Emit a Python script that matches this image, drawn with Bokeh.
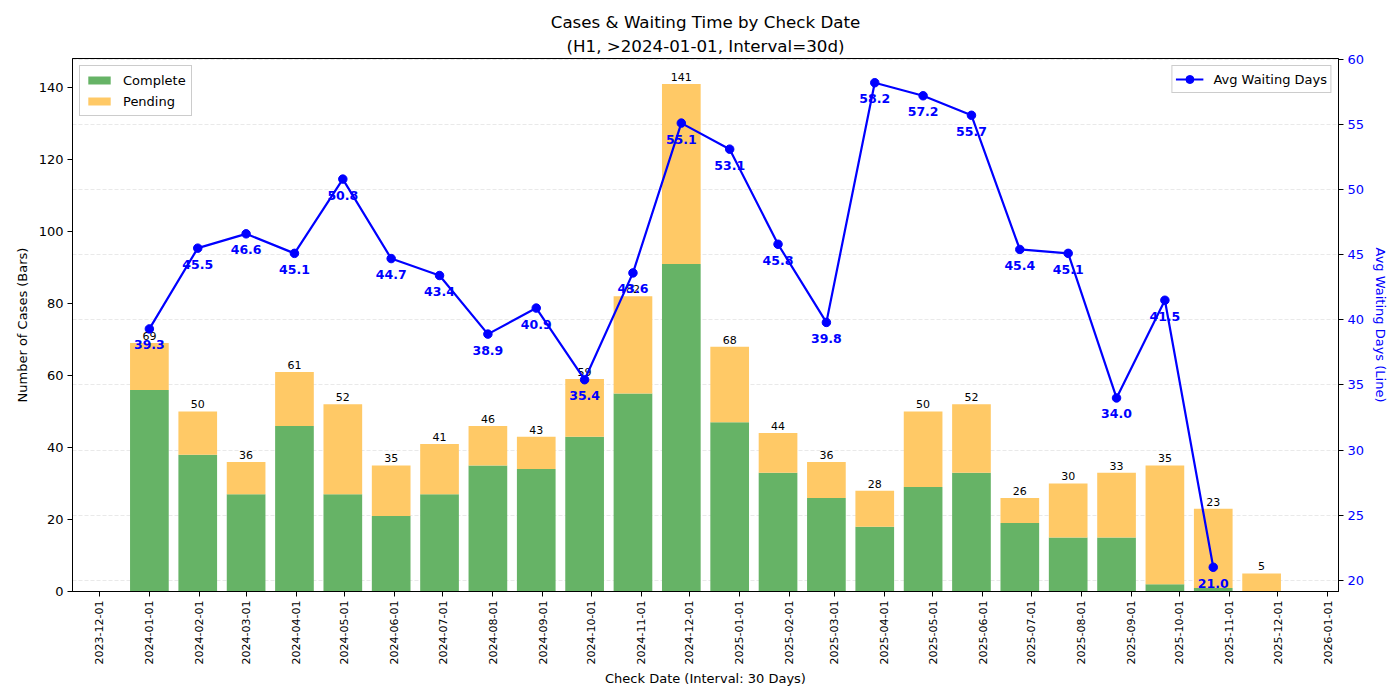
import math
import pandas as pd
from bokeh.plotting import figure
from bokeh.models import (ColumnDataSource, Range1d, LinearAxis, Grid, Legend, LegendItem,
                          FixedTicker, SingleIntervalTicker, DatetimeTickFormatter, Title)
from bokeh.core.properties import value
from bokeh.embed import file_html
from bokeh.resources import INLINE

FONT = "DejaVu Sans"

# ---- data ----
start_date = "2024-01-01"
interval_days = 30
n_bins = 24
total_cases = [69, 50, 36, 61, 52, 35, 41, 46, 43, 59, 82, 141,
               68, 44, 36, 28, 50, 52, 26, 30, 33, 35, 23, 5]
complete_cases = [56, 38, 27, 46, 27, 21, 27, 35, 34, 43, 55, 91,
                  47, 33, 26, 18, 29, 33, 19, 15, 15, 2, 1, 0]
avg_waiting = [39.3, 45.5, 46.6, 45.1, 50.8, 44.7, 43.4, 38.9, 40.9, 35.4, 43.6, 55.1,
               53.1, 45.8, 39.8, 58.2, 57.2, 55.7, 45.4, 45.1, 34.0, 41.5, 21.0]
tick_start = "2023-12-01"
tick_end = "2026-01-01"

dates = pd.date_range(start_date, periods=n_bins, freq=f"{interval_days}D")
bar_width_days = interval_days * 0.8
DAY_MS = 86400000.0

def ms(ts):
    return ts.value / 1e6

bar_src = ColumnDataSource(dict(
    x=[ms(d) for d in dates],
    complete=complete_cases,
    total=total_cases,
    zero=[0] * n_bins,
    label=[str(t) for t in total_cases],
))
line_src = ColumnDataSource(dict(
    x=[ms(d) for d in dates[:len(avg_waiting)]],
    y=avg_waiting,
    label=[f"{v:.1f}" for v in avg_waiting],
))

# ranges (matplotlib-like autoscale)
x_lo = ms(dates[0]) - bar_width_days / 2 * DAY_MS
x_hi = ms(dates[-1]) + bar_width_days / 2 * DAY_MS
xm = 0.05 * (x_hi - x_lo)
y_left_max = max(total_cases) * 1.05
ymin_r, ymax_r = min(avg_waiting), max(avg_waiting)
rm = 0.05 * (ymax_r - ymin_r)

p = figure(width=1392, height=692, x_axis_type="datetime",
           x_range=Range1d(x_lo - xm, x_hi + xm),
           y_range=Range1d(0, y_left_max),
           output_backend="svg", toolbar_location=None,
           min_border_left=72, min_border_right=54, min_border_top=58, min_border_bottom=101)
p.extra_y_ranges = {"right": Range1d(ymin_r - rm, ymax_r + rm)}

p.add_layout(Title(text="(H1, >2024-01-01, Interval=30d)", align="center",
                   text_font=FONT, text_font_size="16.7px", text_font_style="normal",
                   text_color="black", standoff=5), "above")
p.add_layout(Title(text="Cases & Waiting Time by Check Date", align="center",
                   text_font=FONT, text_font_size="16.7px", text_font_style="normal",
                   text_color="black", standoff=0), "above")

p.xgrid.visible = False
p.ygrid.visible = False
p.outline_line_color = "black"
p.outline_line_alpha = 1.0

# right axis + grid
right_ticker = SingleIntervalTicker(interval=5)
right_axis = LinearAxis(y_range_name="right", ticker=right_ticker,
                        axis_label="Avg Waiting Days (Line)")
p.add_layout(right_axis, "right")
grid = Grid(dimension=1, ticker=right_ticker, y_range_name="right",
            grid_line_color="#b0b0b0", grid_line_alpha=0.35, grid_line_dash="4 2",
            grid_line_width=0.8)
p.add_layout(grid)

# bars
r_complete = p.vbar(x="x", bottom="zero", top="complete", width=bar_width_days * DAY_MS,
                    source=bar_src, fill_color="#66b366", line_color=None)
r_pending = p.vbar(x="x", bottom="complete", top="total", width=bar_width_days * DAY_MS,
                   source=bar_src, fill_color="#ffc966", line_color=None)
p.text(x="x", y="total", text="label", source=bar_src, text_align="center",
       text_baseline="bottom", y_offset=-3, text_font_size="11px",
       text_font=value(FONT), text_color="black")

# line
r_line = p.line(x="x", y="y", source=line_src, line_color="blue", line_width=2.2,
                y_range_name="right")
r_pts = p.scatter(x="x", y="y", source=line_src, size=8.5, fill_color="blue",
                  line_color="blue", y_range_name="right")
p.text(x="x", y="y", text="label", source=line_src, text_align="center",
       text_baseline="middle", y_offset=16, text_font_size="12.5px",
       text_font=value(FONT), text_font_style="bold", text_color="blue",
       y_range_name="right")

# axes styling
left_axis = p.yaxis[0]
left_axis.ticker = SingleIntervalTicker(interval=20)
left_axis.axis_label = "Number of Cases (Bars)"

xaxis = p.xaxis[0]
xaxis.ticker = FixedTicker(ticks=[ms(d) for d in pd.date_range(tick_start, tick_end, freq="MS")])
fmt = "%Y-%m-%d"
xaxis.formatter = DatetimeTickFormatter(milliseconds=fmt, seconds=fmt, minsec=fmt, minutes=fmt,
                                        hourmin=fmt, hours=fmt, days=fmt, months=fmt, years=fmt)
xaxis.major_label_orientation = math.pi / 2
xaxis.axis_label = "Check Date (Interval: 30 Days)"

for ax in (left_axis, right_axis, xaxis):
    ax.axis_line_color = "black"
    ax.major_tick_line_color = "black"
    ax.major_tick_out = 5
    ax.major_tick_in = 0
    ax.minor_tick_line_color = None
    ax.major_label_text_font = FONT
    ax.major_label_text_font_size = "13px"
    ax.major_label_text_color = "black"
    ax.axis_label_text_font = FONT
    ax.axis_label_text_font_size = "13px"
    ax.axis_label_text_font_style = "normal"
    ax.axis_label_text_color = "black"
    ax.major_label_standoff = 4
    ax.axis_label_standoff = 6
xaxis.major_label_text_font_size = "11px"
xaxis.axis_label_standoff = 4
right_axis.major_label_text_color = "blue"
right_axis.axis_label_text_color = "blue"

# legends
def style_legend(lg):
    lg.label_text_font = FONT
    lg.label_text_font_size = "13px"
    lg.label_text_color = "black"
    lg.border_line_color = "#cccccc"
    lg.border_line_alpha = 1.0
    lg.background_fill_alpha = 0.8
    lg.glyph_width = 28
    lg.glyph_height = 10
    lg.label_height = 18
    lg.label_standoff = 10
    lg.spacing = 3
    lg.padding = 5
    lg.margin = 7

leg1 = Legend(items=[LegendItem(label="Complete", renderers=[r_complete]),
                     LegendItem(label="Pending", renderers=[r_pending])],
              location="top_left")
style_legend(leg1)
leg2 = Legend(items=[LegendItem(label="Avg Waiting Days", renderers=[r_line, r_pts])],
              location="top_right")
style_legend(leg2)
leg2.glyph_height = 20
leg2.padding = 3
p.add_layout(leg1)
p.add_layout(leg2)

open("out.html", "w").write(file_html(p, INLINE))
